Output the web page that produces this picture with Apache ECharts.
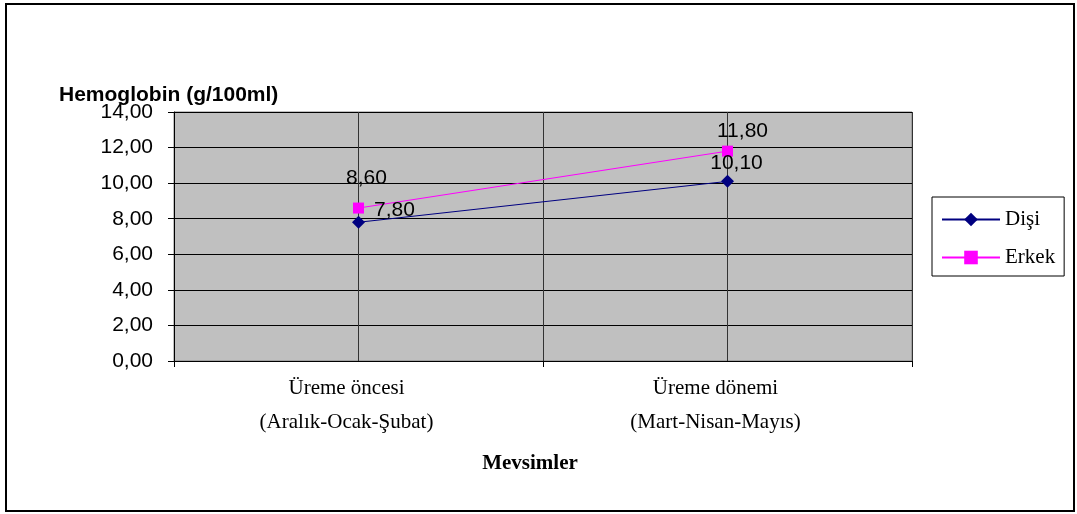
<!DOCTYPE html>
<html>
<head>
<meta charset="utf-8">
<script src="https://cdn.jsdelivr.net/npm/echarts@6/dist/echarts.min.js"></script>
<style>
html,body{margin:0;padding:0;background:#fff;}
#chart{width:1077px;height:514px;}
</style>
</head>
<body>
<div id="chart"></div>
<script>
var categories = ['Üreme öncesi\n(Aralık-Ocak-Şubat)', 'Üreme dönemi\n(Mart-Nisan-Mayıs)'];
var seriesNames = ['Dişi', 'Erkek'];
var disiValues = [7.8, 10.1];
var erkekValues = [8.6, 11.8];
var yTicks = [0, 2, 4, 6, 8, 10, 12, 14];
var yAxisTitle = 'Hemoglobin (g/100ml)';
var xAxisTitle = 'Mevsimler';

function fmt(v) { return Number(v).toFixed(2).replace('.', ','); }

// label offsets (styling, per point)
var disiOffsets = [[36, -12], [9, -18]];
var erkekOffsets = [[8, -30], [15, -20]];

function buildData(values, offsets) {
  return values.map(function (v, i) {
    return { value: v, label: { offset: offsets[i] } };
  });
}

var serif = '"Liberation Serif", "Times New Roman", serif';
var sans = '"Liberation Sans", Arial, sans-serif';

var chart = echarts.init(document.getElementById('chart'));
chart.setOption({
  animation: false,
  backgroundColor: '#fff',
  graphic: [
    { type: 'rect', shape: { x: 6, y: 4, width: 1068, height: 507 }, style: { fill: 'none', stroke: '#000', lineWidth: 2 }, z: 100 },
    { type: 'text', left: 59, top: 85, style: { text: yAxisTitle, font: 'bold 21px ' + sans, fill: '#000' } }
  ],
  grid: {
    left: 174, right: 165, top: 112, bottom: 153,
    show: true, backgroundColor: '#C0C0C0', borderColor: '#808080', borderWidth: 1
  },
  legend: {
    orient: 'vertical',
    left: 932, top: 197,
    padding: [12, 9, 8, 9],
    itemWidth: 58, itemHeight: 17, itemGap: 17,
    backgroundColor: '#fff', borderColor: '#000', borderWidth: 1, borderRadius: 0,
    selectedMode: false,
    textStyle: { fontFamily: serif, fontSize: 21, color: '#000' },
    data: seriesNames
  },
  xAxis: [
    {
      type: 'category',
      data: categories,
      boundaryGap: true,
      axisLine: { show: true, lineStyle: { color: '#000', width: 1 } },
      axisTick: { show: true, inside: false, length: 6, interval: 0, lineStyle: { color: '#000' } },
      axisLabel: { interval: 0, margin: 10, fontFamily: serif, fontSize: 21, color: '#000', lineHeight: 34, padding: [0, 24, 0, 0] },
      splitLine: { show: false },
      name: xAxisTitle,
      nameLocation: 'middle',
      nameGap: 92,
      nameTextStyle: { fontFamily: serif, fontSize: 21, fontWeight: 'bold', color: '#000', padding: [0, 26, 0, 0] }
    },
    {
      type: 'category',
      data: ['', '', '', ''],
      boundaryGap: true,
      position: 'bottom',
      axisLine: { show: false },
      axisTick: { show: false, interval: 0 },
      axisLabel: { show: false, interval: 0 },
      splitLine: { show: true, interval: 0, lineStyle: { color: '#333333', width: 1 } }
    }
  ],
  yAxis: {
    type: 'value',
    min: yTicks[0], max: yTicks[yTicks.length - 1], interval: yTicks[1] - yTicks[0],
    axisLine: { show: true, lineStyle: { color: '#000', width: 1 } },
    axisTick: { show: true, inside: false, length: 6, lineStyle: { color: '#000' } },
    axisLabel: { margin: 21, fontFamily: sans, fontSize: 21, color: '#000', formatter: fmt },
    splitLine: { show: true, lineStyle: { color: '#000', width: 1 } }
  },
  series: [
    {
      name: seriesNames[0], type: 'line', xAxisIndex: 0,
      data: buildData(disiValues, disiOffsets),
      symbol: 'diamond', symbolSize: 13,
      itemStyle: { color: '#000080' },
      lineStyle: { color: '#000080', width: 1 },
      label: { show: true, position: 'inside', fontFamily: sans, fontSize: 21, color: '#000', formatter: function (p) { return fmt(p.value); } }
    },
    {
      name: seriesNames[1], type: 'line', xAxisIndex: 0,
      data: buildData(erkekValues, erkekOffsets),
      symbol: 'rect', symbolSize: 11,
      itemStyle: { color: '#FF00FF' },
      lineStyle: { color: '#FF00FF', width: 1 },
      label: { show: true, position: 'inside', fontFamily: sans, fontSize: 21, color: '#000', formatter: function (p) { return fmt(p.value); } }
    }
  ]
});
</script>
</body>
</html>
